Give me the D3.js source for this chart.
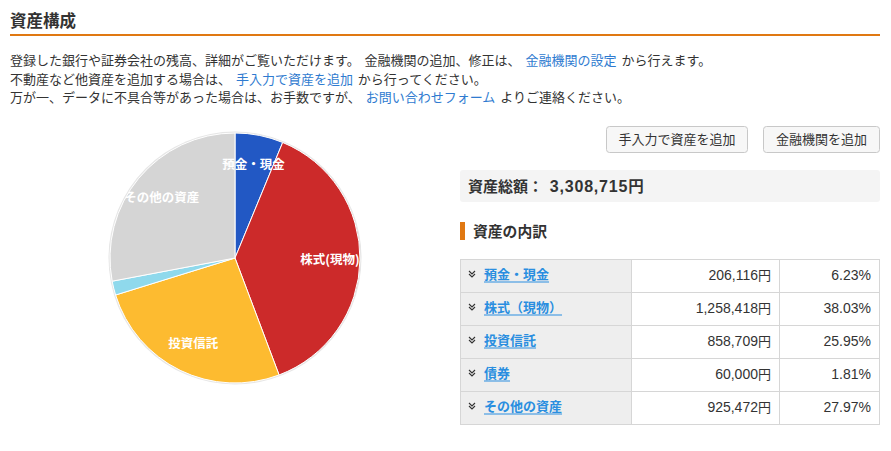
<!DOCTYPE html>
<html><head><meta charset="utf-8">
<script src="https://cdn.jsdelivr.net/npm/d3@7"></script>
<style>
html,body{margin:0;padding:0;background:#fff;}
svg{display:block;font-family:"Noto Sans CJK JP","Noto Sans",sans-serif;}
.num{font-family:"Liberation Sans","Noto Sans CJK JP",sans-serif;}
.cjk{font-family:"Noto Sans CJK JP",sans-serif;}
</style></head>
<body>
<svg id="c" width="891" height="451"></svg>
<script>
const categories = ["預金・現金", "株式(現物)", "投資信託", "債券", "その他の資産"];
const tableLabels = ["預金・現金", "株式（現物）", "投資信託", "債券", "その他の資産"];
const values = [206116, 1258418, 858709, 60000, 925472];
const percents = ["6.23%", "38.03%", "25.95%", "1.81%", "27.97%"];
const showLabel = [true, true, true, false, true];
const colors = ["#2258c4", "#cc2a2a", "#fdbb30", "#8fd9ec", "#d5d5d5"];
const totalValue = 3308715;

const svg = d3.select("#c");
const fmt = d3.format(",");

// Title
svg.append("text").attr("x", 10).attr("y", 27).attr("font-size", 16.5).attr("font-weight", "bold").attr("fill", "#333").text("資産構成");
svg.append("rect").attr("x", 10).attr("y", 34).attr("width", 870).attr("height", 2).attr("fill", "#e07812");

// Intro text
const lines = [
  [["登録した銀行や証券会社の残高、詳細がご覧いただけます。 金融機関の追加、修正は、 ", false], ["金融機関の設定", true], [" から行えます。", false]],
  [["不動産など他資産を追加する場合は、 ", false], ["手入力で資産を追加", true], [" から行ってください。", false]],
  [["万が一、データに不具合等があった場合は、お手数ですが、 ", false], ["お問い合わせフォーム", true], [" よりご連絡ください。", false]]
];
lines.forEach((ln, i) => {
  const t = svg.append("text").attr("x", 10).attr("y", 65 + i * 18.7).attr("font-size", 13).attr("fill", "#333")
    .attr("xml:space", "preserve").attr("word-spacing", 2);
  ln.forEach(([s, link]) => t.append("tspan").attr("fill", link ? "#2f7bd0" : "#333").text(s));
});

// Pie
const cx = 235, cy = 258, R = 125;
const g = svg.append("g").attr("transform", `translate(${cx},${cy})`);
const defs = svg.append("defs");
defs.append("clipPath").attr("id", "pc").append("circle").attr("r", R);
g.append("circle").attr("r", R + 1.5).attr("fill", "#e6e6e6");
const pie = d3.pie().sort(null).value(d => d.v);
const data = pie(categories.map((c, i) => ({c, v: values[i], i})));
const arc = d3.arc().innerRadius(0).outerRadius(R);
g.selectAll("path.s").data(data).join("path").attr("class", "s")
  .attr("d", arc).attr("fill", d => colors[d.data.i]).attr("stroke", "#fff").attr("stroke-width", 1);
const la = d3.arc().innerRadius(95).outerRadius(95);
g.append("g").attr("clip-path", "url(#pc)").selectAll("text").data(data.filter(d => showLabel[d.data.i])).join("text")
  .attr("transform", d => `translate(${la.centroid(d)})`)
  .attr("text-anchor", "middle").attr("dy", "0.36em")
  .attr("font-size", 12.5).attr("font-weight", "bold").attr("fill", "#fff")
  .text(d => d.data.c);

// Buttons
const buttons = [["手入力で資産を追加", 606, 141], ["金融機関を追加", 763, 116]];
buttons.forEach(([t, x, w]) => {
  svg.append("rect").attr("x", x + 0.5).attr("y", 126.5).attr("width", w).attr("height", 26).attr("rx", 3)
    .attr("fill", "#f7f7f7").attr("stroke", "#c8c8c8");
  svg.append("text").attr("x", x + w / 2 + 0.5).attr("y", 144).attr("text-anchor", "middle").attr("font-size", 13).attr("fill", "#333").text(t);
});

// Total
svg.append("rect").attr("x", 460).attr("y", 170).attr("width", 420).attr("height", 32).attr("rx", 3).attr("fill", "#f4f4f4");
const tt = svg.append("text").attr("x", 468).attr("y", 192).attr("font-weight", "bold").attr("fill", "#333").attr("xml:space", "preserve");
tt.append("tspan").attr("class", "cjk").attr("font-size", 15).text("資産総額：  ");
tt.append("tspan").attr("class", "num").attr("font-size", 16).attr("letter-spacing", 0.8).text(fmt(totalValue));
tt.append("tspan").attr("class", "cjk").attr("font-size", 15.5).text("円");

// Subheading
svg.append("rect").attr("x", 460).attr("y", 222).attr("width", 5).attr("height", 18).attr("fill", "#e07812");
svg.append("text").attr("x", 473).attr("y", 237).attr("font-size", 14.8).attr("font-weight", "bold").attr("fill", "#333").text("資産の内訳");

// Table
const tx = 460.5, ty = 259.5, rh = 33;
const cols = [tx, 631.5, 779.5, 879.5];
const rows = svg.append("g").selectAll("g").data(tableLabels).join("g")
  .attr("transform", (d, i) => `translate(0,${ty + i * rh})`);
rows.append("rect").attr("x", cols[0]).attr("width", cols[1] - cols[0]).attr("height", rh).attr("fill", "#eeeeee").attr("stroke", "#d6d6d6");
rows.append("rect").attr("x", cols[1]).attr("width", cols[2] - cols[1]).attr("height", rh).attr("fill", "#fff").attr("stroke", "#d6d6d6");
rows.append("rect").attr("x", cols[2]).attr("width", cols[3] - cols[2]).attr("height", rh).attr("fill", "#fff").attr("stroke", "#d6d6d6");
rows.append("path").attr("d", "M469,11.5 l3,3 l3,-3 M469,14.5 l3,3 l3,-3").attr("fill", "none").attr("stroke", "#333").attr("stroke-width", 1.1);
const lt = rows.append("text").attr("x", 484).attr("y", 19.8).attr("font-size", 13).attr("font-weight", "bold").attr("fill", "#2a8ee0").text(d => d);
lt.each(function() {
  const bb = this.getBBox();
  d3.select(this.parentNode).append("rect").attr("x", bb.x).attr("y", 22).attr("width", bb.width).attr("height", 1).attr("fill", "#2a8ee0");
});
const vt = rows.append("text").attr("x", 771).attr("y", 20).attr("text-anchor", "end").attr("fill", "#333");
vt.append("tspan").attr("class", "num").attr("font-size", 14).text((d, i) => fmt(values[i]));
vt.append("tspan").attr("class", "cjk").attr("font-size", 13).text("円");
rows.append("text").attr("class", "num").attr("x", 871).attr("y", 20).attr("text-anchor", "end").attr("font-size", 14).attr("fill", "#333").text((d, i) => percents[i]);
</script>
</body></html>
